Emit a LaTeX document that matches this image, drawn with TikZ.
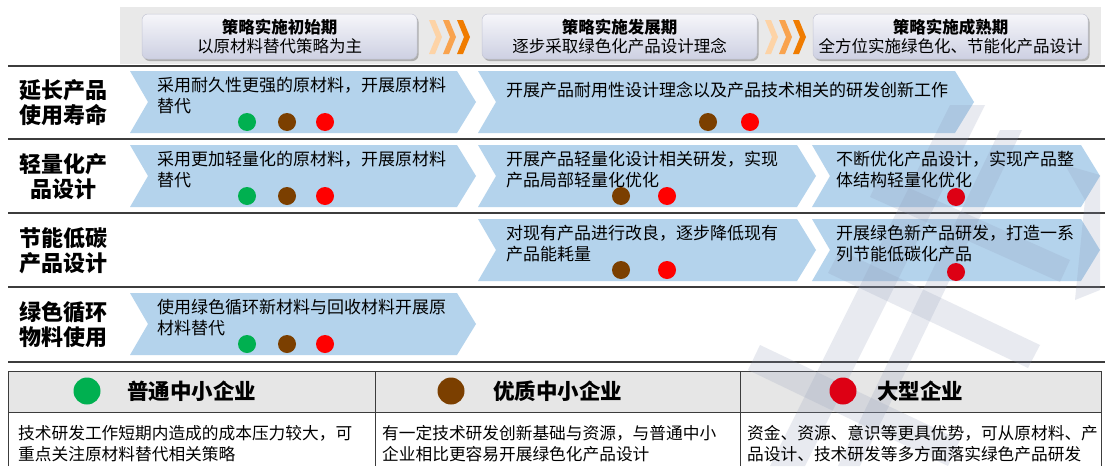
\documentclass[tikz,border=0pt]{standalone}
\usepackage{fontspec}
\setmainfont{Noto Sans CJK SC}
\usetikzlibrary{shadows}
\definecolor{arrowblue}{HTML}{B4D3EC}
\definecolor{hband}{HTML}{E9E9E9}
\definecolor{boxtop}{HTML}{F6F6FA}
\definecolor{boxbot}{HTML}{CDD0E2}
\definecolor{boxborder}{HTML}{C4C6D4}
\definecolor{sepgray}{HTML}{3C3C3C}
\definecolor{chevone}{HTML}{FDD3A6}
\definecolor{chevtwo}{HTML}{F9A34E}
\definecolor{chevthree}{HTML}{F07C00}
\definecolor{cgreen}{HTML}{00B050}
\definecolor{cbrown}{HTML}{7B3F00}
\definecolor{cred}{HTML}{FF0000}
\definecolor{cdred}{HTML}{DD0014}
\definecolor{thead}{HTML}{E6E6E6}
\definecolor{wmark}{HTML}{8E9AB8}
\newcommand\chevarrow[3]{\fill[arrowshape] (#1,#3) -- (#2,#3) -- ({#2+19},{#3+31}) -- (#2,{#3+62}) -- (#1,{#3+62}) -- ({#1+18},{#3+31}) -- cycle;}
\newcommand\hchev[2]{\fill[#2] (#1,20) -- ({#1+6},20) -- ({#1+13},37) -- ({#1+6},54) -- (#1,54) -- ({#1+7},37) -- cycle;}
\tikzset{
 arrowshape/.style={fill=arrowblue},
 sepline/.style={draw=sepgray, line width=1.8pt},
 hbox/.style={rounded corners=6pt, draw=boxborder, line width=0.5pt, top color=boxtop, bottom color=boxbot,
   minimum width=275pt, minimum height=45pt, align=center, font=\fontsize{16.5}{19}\selectfont, inner sep=0pt,
   drop shadow={shadow xshift=1.5pt, shadow yshift=-2pt, opacity=0.45, fill=black!60}},
 rowlab/.style={align=center, font=\fontsize{22}{25}\selectfont\bfseries, inner sep=0pt},
 atext/.style={anchor=north west, align=left, font=\fontsize{17}{21}\selectfont, inner sep=0pt},
 dot/.style={circle, minimum size=18pt, inner sep=0pt},
 ldot/.style={circle, minimum size=27pt, inner sep=0pt},
 lhead/.style={anchor=west, font=\fontsize{21.5}{24}\selectfont\bfseries, inner sep=0pt},
 ltext/.style={anchor=north west, align=left, font=\fontsize{16.7}{21}\selectfont, inner sep=0pt},
 tline/.style={draw=sepgray, line width=0.8pt},
 wm/.style={fill=wmark, opacity=0.2}
}
\begin{document}
\begin{tikzpicture}[x=1pt, y=-1pt]
\useasboundingbox (0,0) rectangle (1105,466);
\fill[white] (0,0) rectangle (1105,466);
% header band
\fill[hband] (120,7) rectangle (1101,64);
\node[hbox] (h1) at (279.5,36.5) {\textbf{策略实施初始期}\\以原材料替代策略为主};
\node[hbox] (h2) at (619.5,36.5) {\textbf{策略实施发展期}\\逐步采取绿色化产品设计理念};
\node[hbox] (h3) at (950.5,36.5) {\textbf{策略实施成熟期}\\全方位实施绿色化、节能化产品设计};
\hchev{429}{chevone}\hchev{443}{chevtwo}\hchev{457}{chevthree}
\hchev{765}{chevone}\hchev{779}{chevtwo}\hchev{793}{chevthree}
% separators
\draw[sepline] (8,66) -- (1105,66);
\draw[sepline] (8,139) -- (1105,139);
\draw[sepline] (8,213) -- (1105,213);
\draw[sepline] (8,287) -- (1105,287);
\draw[sepline] (8,362) -- (1105,362);
% row labels
\node[rowlab] (l1) at (63,102.5) {延长产品\\使用寿命};
\node[rowlab] (l2) at (63,176.5) {轻量化产\\品设计};
\node[rowlab] (l3) at (63,250.5) {节能低碳\\产品设计};
\node[rowlab] (l4) at (63,324.5) {绿色循环\\物料使用};
% arrows
\chevarrow{130}{457}{71}
\chevarrow{478}{955}{71}
\chevarrow{130}{457}{145}
\chevarrow{478}{797}{145}
\chevarrow{812}{1081}{145}
\chevarrow{478}{797}{219}
\chevarrow{812}{1081}{219}
\chevarrow{130}{457}{293}
% legend table
\fill[thead] (8,371) rectangle (1101,412);
\draw[tline] (8,466) -- (8,371) -- (1101,371) -- (1101,466);
\draw[tline] (8,412) -- (1101,412);
\draw[tline] (375,371) -- (375,466);
\draw[tline] (740,371) -- (740,466);
% watermark (faint)
\fill[wm] (950,105) -- (985,105) -- (805,466) -- (770,466) -- cycle;
\fill[wm] (1000,130) -- (1022,130) -- (860,466) -- (838,466) -- cycle;
\fill[wm] (1065,165) -- (1100,175) -- (1100,290) -- (1075,300) -- (1085,200) -- cycle;
\fill[wm] (840,250) -- (1040,345) -- (1028,368) -- (828,273) -- cycle;
\fill[wm] (880,175) -- (1070,260) -- (1060,282) -- (870,197) -- cycle;
\fill[wm] (760,345) -- (960,440) -- (948,466) -- (748,370) -- cycle;
% arrow texts
\node[atext] (t11) at (157,77) {采用耐久性更强的原材料，开展原材料\\替代};
\node[atext] (t12) at (506,81.5) {开展产品耐用性设计理念以及产品技术相关的研发创新工作};
\node[atext] (t21) at (157,151) {采用更加轻量化的原材料，开展原材料\\替代};
\node[atext] (t22) at (506,151) {开展产品轻量化设计相关研发，实现\\产品局部轻量化优化};
\node[atext] (t23) at (836,151) {不断优化产品设计，实现产品整\\体结构轻量化优化};
\node[atext] (t32) at (506,225) {对现有产品进行改良，逐步降低现有\\产品能耗量};
\node[atext] (t33) at (836,225) {开展绿色新产品研发，打造一系\\列节能低碳化产品};
\node[atext] (t41) at (157,299) {使用绿色循环新材料与回收材料开展原\\材料替代};
% dots
\node[dot, fill=cgreen] (d11a) at (247,122) {};
\node[dot, fill=cbrown] (d11b) at (287,122) {};
\node[dot, fill=cred] (d11c) at (325,122) {};
\node[dot, fill=cbrown] (d12b) at (708,122) {};
\node[dot, fill=cred] (d12c) at (750,122) {};
\node[dot, fill=cgreen] (d21a) at (247,196) {};
\node[dot, fill=cbrown] (d21b) at (287,196) {};
\node[dot, fill=cred] (d21c) at (325,196) {};
\node[dot, fill=cbrown] (d22b) at (621,196) {};
\node[dot, fill=cred] (d22c) at (667,196) {};
\node[dot, fill=cdred] (d23c) at (956,197) {};
\node[dot, fill=cbrown] (d32b) at (621,270) {};
\node[dot, fill=cred] (d32c) at (667,270) {};
\node[dot, fill=cdred] (d33c) at (956,272) {};
\node[dot, fill=cgreen] (d41a) at (247,344) {};
\node[dot, fill=cbrown] (d41b) at (287,344) {};
\node[dot, fill=cred] (d41c) at (325,344) {};
% legend content
\node[ldot, fill=cgreen] (g1) at (87,391) {};
\node[lhead] (gh1) at (127,391) {普通中小企业};
\node[ldot, fill=cbrown] (g2) at (451,391) {};
\node[lhead] (gh2) at (493,391) {优质中小企业};
\node[ldot, fill=cdred] (g3) at (843,391) {};
\node[lhead] (gh3) at (877,391) {大型企业};
\node[ltext] (gt1) at (18,425.5) {技术研发工作短期内造成的成本压力较大，可\\重点关注原材料替代相关策略};
\node[ltext] (gt2) at (382,425.5) {有一定技术研发创新基础与资源，与普通中小\\企业相比更容易开展绿色化产品设计};
\node[ltext] (gt3) at (747,425.5) {资金、资源、意识等更具优势，可从原材料、产\\品设计、技术研发等多方面落实绿色产品研发};
\end{tikzpicture}
\end{document}
